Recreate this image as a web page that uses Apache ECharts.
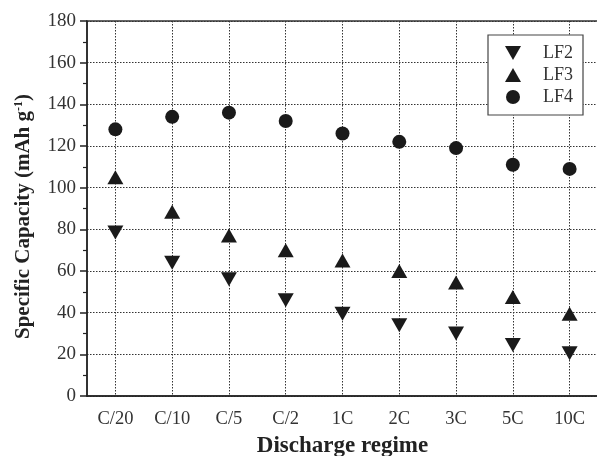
<!DOCTYPE html>
<html>
<head>
<meta charset="utf-8">
<script src="https://cdn.jsdelivr.net/npm/echarts@6/dist/echarts.min.js"></script>
<style>
html, body { margin: 0; padding: 0; background: #fff; }
#chart { width: 597px; height: 456px; }
</style>
</head>
<body>
<div id="chart"></div>
<script>
// 放电倍率
const regimes = ['C/20', 'C/10', 'C/5', 'C/2', '1C', '2C', '3C', '5C', '10C'];

// 各样品比容量 (mAh g-1)
const lf2 = [78.5, 64, 56, 46, 39.5, 34, 30, 24.5, 20.5];
const lf3 = [105, 88.5, 77, 70, 65, 60, 54.5, 47.5, 39.5];
const lf4 = [128, 134, 136, 132, 126, 122, 119, 111, 109];

const yTicks = [0, 20, 40, 60, 80, 100, 120, 140, 160, 180];

const serif = 'Liberation Serif, Times New Roman, serif';
const ink = '#1a1a1a';
const downTriangle = 'path://M0,0 L10,0 L5,8.7 Z';

const chart = echarts.init(document.getElementById('chart'));

chart.setOption({
    animation: false,
    grid: {
        left: 87, top: 21, width: 511, height: 375,
        show: true, borderColor: '#333', borderWidth: 1.5,
        containLabel: false,
        outerBoundsMode: 'none'
    },
    legend: {
        orient: 'vertical',
        left: 488, top: 35,
        padding: [9, 10, 9, 17],
        itemWidth: 16, itemHeight: 14, itemGap: 4,
        borderColor: '#444', borderWidth: 1.2,
        backgroundColor: '#fff',
        textStyle: { fontFamily: serif, fontSize: 18, color: '#333', padding: [0, 0, 0, 17] },
        data: ['LF2', 'LF3', 'LF4']
    },
    xAxis: [{
        type: 'category',
        data: regimes,
        boundaryGap: true,
        name: 'Discharge regime',
        nameLocation: 'middle',
        nameGap: 39,
        nameTextStyle: { fontFamily: serif, fontSize: 23, fontWeight: 'bold', color: '#222' },
        axisLine: { lineStyle: { color: '#222', width: 1.5 } },
        axisTick: { alignWithLabel: true, length: 7, lineStyle: { color: '#222', width: 1.5 } },
        axisLabel: { fontFamily: serif, fontSize: 18.5, color: '#333', margin: 14 },
        splitLine: { show: true, alignWithLabel: true, interval: 0, lineStyle: { color: '#333', type: [1.5, 1.5], width: 1 } }
    }, {
        // 类别边界上的短刻度
        type: 'category',
        data: regimes,
        position: 'bottom',
        boundaryGap: true,
        axisLine: { show: false },
        axisTick: { length: 3, lineStyle: { color: '#222', width: 1.5 } },
        axisLabel: { show: false },
        splitLine: { show: false }
    }],
    yAxis: {
        type: 'value',
        min: 0, max: 180, interval: 20,
        name: 'Specific Capacity (mAh g{sup|-1})',
        nameLocation: 'middle',
        nameGap: 53,
        nameRotate: 90,
        nameTextStyle: {
            fontFamily: serif, fontSize: 21, fontWeight: 'bold', color: '#222',
            padding: [0, 16, 0, 0],
            rich: { sup: { fontFamily: serif, fontSize: 12, fontWeight: 'bold', color: '#222', verticalAlign: 'top', padding: [0, 0, 9, 0] } }
        },
        axisLine: { show: true, lineStyle: { color: '#222', width: 1.5 } },
        axisTick: { show: true, length: 7, lineStyle: { color: '#222', width: 1.5 } },
        minorTick: { show: true, splitNumber: 2, length: 4, lineStyle: { color: '#222', width: 1.2 } },
        axisLabel: {
            fontFamily: serif, fontSize: 19, color: '#333', margin: 11,
            formatter: v => yTicks.includes(v) ? String(v) : ''
        },
        splitLine: { show: true, lineStyle: { color: '#333', type: [1.5, 1.5], width: 1 } }
    },
    series: [{
        name: 'LF2', type: 'scatter', data: lf2,
        symbol: downTriangle, symbolSize: [16, 14],
        itemStyle: { color: ink, opacity: 1 }
    }, {
        name: 'LF3', type: 'scatter', data: lf3,
        symbol: 'triangle', symbolSize: [16, 14],
        itemStyle: { color: ink, opacity: 1 }
    }, {
        name: 'LF4', type: 'scatter', data: lf4,
        symbol: 'circle', symbolSize: 14,
        itemStyle: { color: ink, opacity: 1 }
    }]
});

window.addEventListener('resize', function() {
    chart.resize();
});
</script>
</body>
</html>
